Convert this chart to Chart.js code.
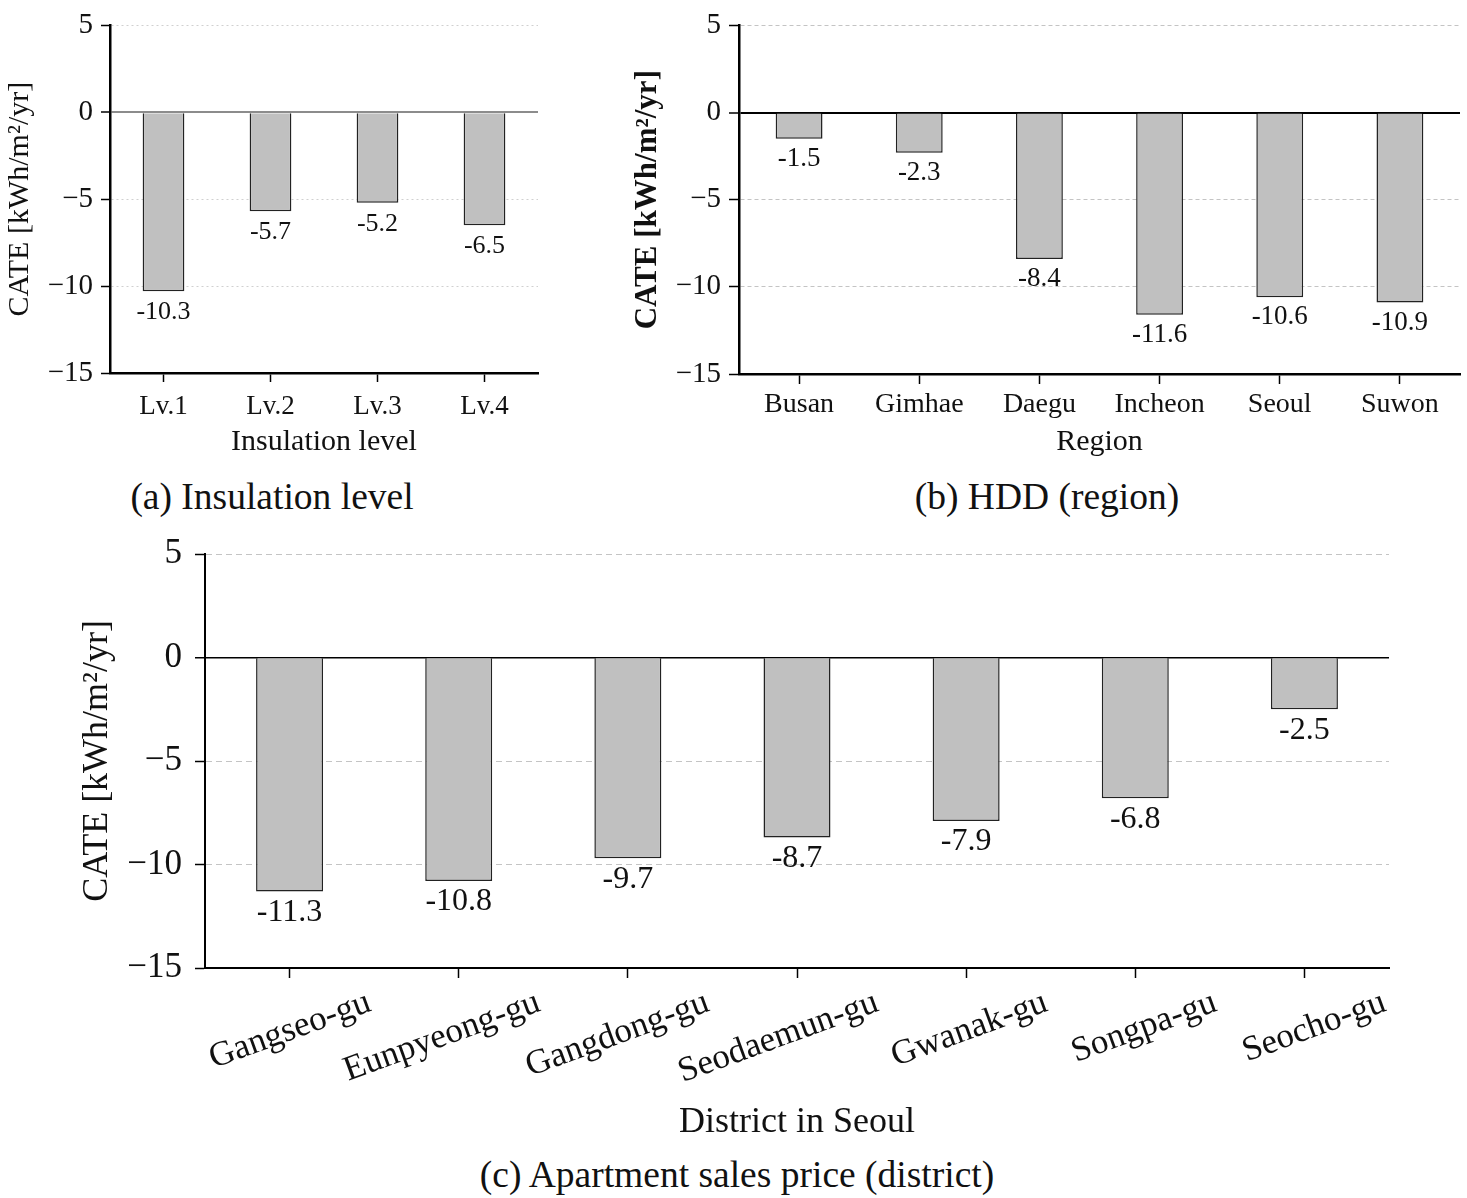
<!DOCTYPE html>
<html>
<head>
<meta charset="utf-8">
<script src="https://cdn.jsdelivr.net/npm/chart.js@4/dist/chart.umd.min.js"></script>
<style>
    body { margin: 0; background: #fff; }
    #wrap { position: relative; width: 1467px; height: 1198px; background: #fff; }
    .box { position: absolute; }
    .cap { position: absolute; text-align: center; font-family: "Liberation Serif", serif; font-size: 37.5px; color: #111; line-height: 40px; }
</style>
</head>
<body>
<div id="wrap">
    <div class="box" style="left:0;top:0;width:560px;height:460px"><canvas id="insulation_chart"></canvas></div>
    <div class="box" style="left:620px;top:0;width:847px;height:460px"><canvas id="region_chart"></canvas></div>
    <div class="box" style="left:60px;top:520px;width:1407px;height:630px"><canvas id="district_chart"></canvas></div>
    <div class="cap" style="left:0;top:477px;width:544px">(a) Insulation level</div>
    <div class="cap" style="left:820px;top:477px;width:454px">(b) HDD (region)</div>
    <div class="cap" style="left:400px;top:1155px;width:674px">(c) Apartment sales price (district)</div>
</div>
<script>
const insulation_levels = ["Lv.1", "Lv.2", "Lv.3", "Lv.4"];
const insulation_cate = [-10.3, -5.7, -5.2, -6.5];

const regions = ["Busan", "Gimhae", "Daegu", "Incheon", "Seoul", "Suwon"];
const region_cate = [-1.5, -2.3, -8.4, -11.6, -10.6, -10.9];

const districts = ["Gangseo-gu", "Eunpyeong-gu", "Gangdong-gu", "Seodaemun-gu", "Gwanak-gu", "Songpa-gu", "Seocho-gu"];
const district_cate = [-11.3, -10.8, -9.7, -8.7, -7.9, -6.8, -2.5];

const y_ticks = [5, 0, -5, -10, -15];

const SERIF = '"Liberation Serif", "Times New Roman", serif';

// writes the value under the end of each bar
const valueLabels = {
    id: 'valueLabels',
    afterDatasetsDraw(chart, args, opts) {
        const ctx = chart.ctx;
        const meta = chart.getDatasetMeta(0);
        const values = chart.data.datasets[0].data;
        ctx.save();
        ctx.font = opts.size + 'px ' + SERIF;
        ctx.fillStyle = '#111';
        ctx.textAlign = 'center';
        ctx.textBaseline = 'middle';
        meta.data.forEach((bar, i) => {
            ctx.fillText(values[i].toFixed(1), bar.x, bar.y + opts.gap);
        });
        ctx.restore();
    }
};

function minusSign(v) {
    return v < 0 ? '\u2212' + Math.abs(v) : String(v);
}

function makeChart(id, labels, values, s) {
    const canvas = document.getElementById(id);
    const data = {
        labels: labels,
        datasets: [{
            data: values,
            backgroundColor: '#c0c0c0',
            borderColor: '#222',
            borderWidth: s.barBorder,
            barPercentage: s.barPct,
            categoryPercentage: 1
        }]
    };

    const config = {
        type: 'bar',
        data: data,
        options: {
            responsive: true,
            maintainAspectRatio: false,
            animation: false,
            layout: { padding: s.padding },
            plugins: {
                legend: { display: false },
                tooltip: { enabled: false },
                valueLabels: { size: s.valueSize, gap: s.valueGap }
            },
            scales: {
                x: {
                    afterFit: (scale) => { scale.height = s.xHeight; },
                    grid: {
                        offset: false,
                        drawOnChartArea: false,
                        drawTicks: true,
                        tickLength: s.tickLen,
                        tickColor: '#000',
                        tickWidth: 1.5
                    },
                    border: { color: '#000', width: s.axisWidth },
                    ticks: {
                        color: '#111',
                        font: { family: SERIF, size: s.xTickSize },
                        padding: s.xTickPad,
                        maxRotation: s.rotation,
                        minRotation: s.rotation,
                        labelOffset: s.labelOffset || 0,
                        autoSkip: false
                    },
                    title: {
                        display: true,
                        text: s.xTitle,
                        color: '#111',
                        font: { family: SERIF, size: s.xTitleSize },
                        padding: { top: 0, bottom: s.xTitlePad }
                    }
                },
                y: {
                    min: -15,
                    max: 5,
                    afterFit: (scale) => { scale.width = s.yWidth; },
                    afterBuildTicks: (scale) => {
                        scale.ticks = y_ticks.map(v => ({ value: v }));
                    },
                    grid: {
                        color: (c) => c.tick.value === 0 ? s.zeroColor : (c.tick.value === -15 ? 'rgba(0,0,0,0)' : s.gridColor),
                        lineWidth: (c) => c.tick.value === 0 ? s.zeroWidth : 1,
                        tickLength: s.tickLen,
                        tickColor: '#000',
                        tickWidth: 1.5
                    },
                    border: {
                        color: '#000',
                        width: s.axisWidth,
                        dash: (c) => (c.tick && c.tick.value !== 0) ? s.gridDash : []
                    },
                    ticks: {
                        color: '#111',
                        font: { family: SERIF, size: s.yTickSize },
                        padding: s.yTickPad,
                        callback: (v) => minusSign(v)
                    },
                    title: {
                        display: true,
                        text: 'CATE [kWh/m\u00b2/yr]',
                        color: '#111',
                        font: { family: SERIF, size: s.yTitleSize, weight: s.yTitleWeight || 'normal' },
                        padding: { top: s.yTitlePad, bottom: 0 }
                    }
                }
            }
        },
        plugins: [valueLabels]
    };

    return new Chart(canvas, config);
}

function init() {
    makeChart("insulation_chart", insulation_levels, insulation_cate, {
        padding: { left: 0, right: 22, top: 20, bottom: 0 },
        yWidth: 110, xHeight: 87,
        barPct: 0.39, barBorder: 1.5, axisWidth: 2.5, tickLen: 9,
        xTickSize: 27, xTickPad: 9, rotation: 0,
        xTitle: 'Insulation level', xTitleSize: 30, xTitlePad: 0,
        yTickSize: 29, yTickPad: 8,
        yTitleSize: 30, yTitlePad: 2,
        zeroColor: '#8c8c8c', zeroWidth: 2, gridColor: '#d0d0d0', gridDash: [2, 3],
        valueSize: 26, valueGap: 21
    });

    makeChart("region_chart", regions, region_cate, {
        padding: { left: 0, right: 7, top: 16, bottom: 0 },
        yWidth: 119, xHeight: 86,
        barPct: 0.39, barBorder: 1.5, axisWidth: 2.5, tickLen: 10,
        xTickSize: 28, xTickPad: 4, rotation: 0,
        xTitle: 'Region', xTitleSize: 30, xTitlePad: 0,
        yTickSize: 29, yTickPad: 8,
        yTitleSize: 31, yTitlePad: 9, yTitleWeight: 'bold',
        zeroColor: '#000', zeroWidth: 2, gridColor: '#c4c4c4', gridDash: [4, 3],
        valueSize: 27, valueGap: 20
    });

    makeChart("district_chart", districts, district_cate, {
        padding: { left: 0, right: 78, top: 27, bottom: 0 },
        yWidth: 145, xHeight: 182,
        barPct: 0.396, barBorder: 1.5, axisWidth: 2, tickLen: 10,
        xTickSize: 35, xTickPad: 4, rotation: 20, labelOffset: 80,
        xTitle: 'District in Seoul', xTitleSize: 36, xTitlePad: 6,
        yTickSize: 35, yTickPad: 13,
        yTitleSize: 36, yTitlePad: 16,
        zeroColor: '#000', zeroWidth: 1.5, gridColor: '#c4c4c4', gridDash: [6, 4],
        valueSize: 32, valueGap: 21
    });
}

init();
</script>
</body>
</html>
